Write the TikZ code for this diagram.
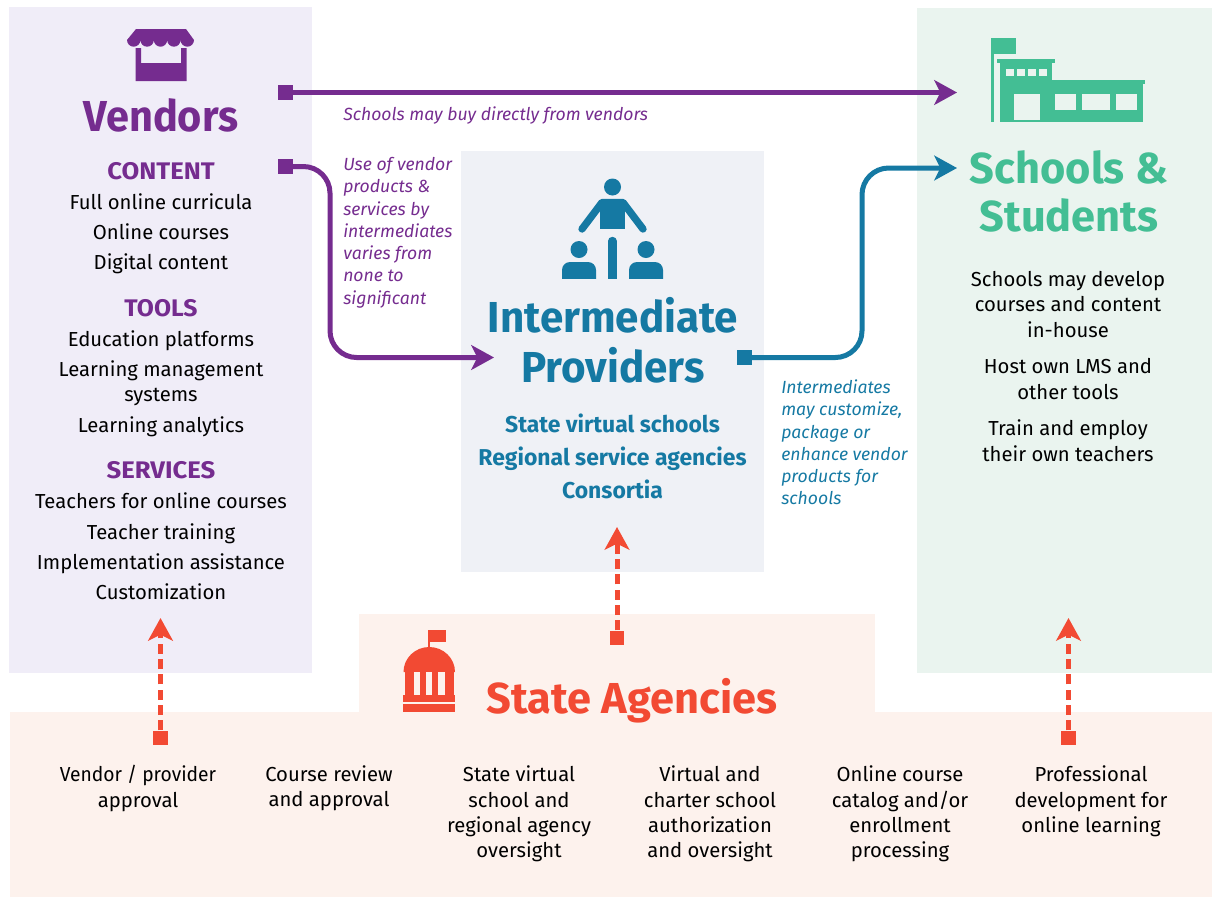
\documentclass[tikz,border=0pt]{standalone}
\usepackage{fontspec}
\usepackage{graphicx}
\setmainfont{Fira Sans}
\usetikzlibrary{arrows.meta}
\definecolor{vend}{HTML}{752C8F}
\definecolor{vendbg}{HTML}{F0EDF8}
\definecolor{inter}{HTML}{1579A3}
\definecolor{interbg}{HTML}{EFF1F6}
\definecolor{schl}{HTML}{43BE94}
\definecolor{schlbg}{HTML}{EAF4EF}
\definecolor{stat}{HTML}{F24A33}
\definecolor{statbg}{HTML}{FDF2ED}
\newcommand{\fsz}[2]{\fontsize{#1}{#2}\selectfont}
\newcommand{\st}{\rule[-.2em]{0pt}{.8em}}
\newcommand{\hs}[2]{\scalebox{#1}[1]{#2}}
\tikzset{
  x=.75pt,y=-.75pt,
  strutted/.style={execute at begin node=\st,execute at end node=\st},
  txt/.style={strutted,inner sep=0pt,align=center,text=black,font=\fsz{15.2pt}{19.1pt}},
  subhead/.style={strutted,inner sep=0pt,align=center,text=vend,font=\fsz{18pt}{21pt}\bfseries},
  bigtitle/.style={strutted,inner sep=0pt,align=center,font=\fsz{32.5pt}{37.5pt}\bfseries},
  provider/.style={strutted,inner sep=0pt,align=center,text=inter,font=\fsz{17.2pt}{24.5pt}\bfseries},
  note/.style={inner sep=0pt,align=left,anchor=north west,font=\fsz{13.2pt}{16.7pt}\itshape},
  sq/.style={inner sep=0pt,minimum size=11pt,fill=#1,draw=none,rectangle},
  flowline/.style={draw=#1,line width=3.75pt,-{Stealth[length=17pt,width=18.5pt,inset=4.5pt]}},
  dashline/.style={draw=stat,line width=3.75pt,dash pattern=on 7.5pt off 4pt,-{Stealth[length=17pt,width=18.5pt,inset=4.5pt]}},
}
\begin{document}
\begin{tikzpicture}
\useasboundingbox (0,0) rectangle (1212,897);
% panels
\fill[vendbg] (9,7) rectangle (312,673);
\fill[interbg] (461,151) rectangle (764,572);
\fill[schlbg] (917,8) rectangle (1212,673);
\fill[statbg] (359,614) rectangle (875,713);
\fill[statbg] (10,712) rectangle (1212,897);
% stall icon
\fill[vend] (136,29) -- (186,29) -- (194,40)
  arc (0:180:6.7 and 6.7) arc (0:180:6.7 and 6.7) arc (0:180:6.7 and 6.7) arc (0:180:6.7 and 6.7) arc (0:180:6.7 and 6.7)
  -- cycle;
\fill[vend] (135.5,48) -- (141,48) -- (141,63) -- (181,63) -- (181,48) -- (186.5,48) -- (186.5,81) -- (135.5,81) -- cycle;
% school icon
\fill[schl] (991,37.5) rectangle (1016,53.5);
\fill[schl] (991,53) rectangle (993.5,122);
\fill[schl] (997,59) rectangle (1055,63);
\fill[schl] (1000,63) rectangle (1052,81);
\fill[schl] (1000,80) rectangle (1143,122);
\fill[schl] (1052,80) rectangle (1145,84);
\foreach \a/\b in {1005.5/1014,1016.5/1025,1027.5/1036,1038.5/1047}
  \fill[schlbg] (\a,69) rectangle (\b,76);
\fill[schlbg] (1014,94) rectangle (1040,120);
\foreach \a/\b in {1054.5/1076,1082/1110,1115.5/1137}
  \fill[schlbg] (\a,94) rectangle (\b,109.5);
% people icon
\fill[inter] (612.5,187) circle[radius=8.5];
\fill[inter] (600,200) rectangle (625,229);
\draw[inter,line width=5.5pt,line cap=round,line join=round] (582,229) -- (602,202.5) -- (623,202.5) -- (643,229);
\draw[inter,line width=6.3pt,line cap=round] (612.3,241) -- (612.3,275);
\fill[inter] (608.1,270) rectangle (616.5,279);
\foreach \c in {579,646}{
  \fill[inter] (\c,249.5) circle[radius=8.5];
  \fill[inter,rounded corners=6pt] (\c-17,290) -- (\c-17,262) -- (\c+17,262) -- (\c+17,290) -- cycle;
}
\fill[interbg] (555,279) rectangle (670,292);
% capitol icon
\fill[stat] (428,630) rectangle (445.5,642);
\fill[stat] (428,642) rectangle (430,650);
\fill[stat] (403.5,672) arc (180:360:25.75 and 25) -- cycle;
\fill[stat] (405,672) rectangle (454,695);
\foreach \a/\b in {413.5/419.5,425.7/432,438/444.5}
  \fill[statbg] (\a,672) rectangle (\b,695);
\fill[stat] (403,695) rectangle (455,702);
\fill[stat] (403,704) rectangle (455,712);
% titles
\node[bigtitle,text=vend] (tVend) at (161,119) {\hs{.957}{Vendors}};
\node[bigtitle,text=inter] (tInter) at (613,344.5) {\hs{.973}{Intermediate}\\\hs{.973}{Providers}};
\node[bigtitle,text=schl,font=\fsz{32.5pt}{36pt}\bfseries] (tSchl) at (1069,195) {Schools \&\\Students};
\node[bigtitle,text=stat] (tStat) at (632,701) {State Agencies};
% vendors list
\node[subhead] (hContent) at (161,173) {\hs{1.07}{CONTENT}};
\node[txt] (v1) at (161,204) {Full online curricula};
\node[txt] (v2) at (161,234) {Online courses};
\node[txt] (v3) at (161,264) {Digital content};
\node[subhead] (hTools) at (161,310) {\hs{1.03}{TOOLS}};
\node[txt] (v4) at (161,341) {Education platforms};
\node[txt] (v5) at (161,383.5) {Learning management\\systems};
\node[txt] (v6) at (161,427) {Learning analytics};
\node[subhead] (hServ) at (161,472) {\hs{1.07}{SERVICES}};
\node[txt] (v7) at (161,503) {Teachers for online courses};
\node[txt] (v8) at (161,534) {Teacher training};
\node[txt] (v9) at (161,564) {Implementation assistance};
\node[txt] (v10) at (161,594) {Customization};
% providers
\node[provider] (p1) at (612.5,425.5) {State virtual schools};
\node[provider] (p2) at (612.5,458.5) {Regional service agencies};
\node[provider] (p3) at (612.5,491.5) {Consortia};
% schools list
\node[txt] (s1) at (1068,306) {Schools may develop\\courses and content\\in-house};
\node[txt] (s2) at (1068,381) {Host own LMS and\\other tools};
\node[txt] (s3) at (1068,442.5) {Train and employ\\their own teachers};
% state list
\node[txt] (a1) at (138,788.5) {\hs{.95}{Vendor / provider}\\approval};
\node[txt] (a2) at (329,788.5) {Course review\\and approval};
\node[txt] (a3) at (519,814) {State virtual\\school and\\regional agency\\oversight};
\node[txt] (a4) at (710,814) {Virtual and\\charter school\\authorization\\and oversight};
\node[txt] (a5) at (900,814) {Online course\\catalog and/or\\enrollment\\processing};
\node[txt] (a6) at (1091,801.5) {Professional\\development for\\online learning};
% notes
\node[note,text=vend] (n1) at (343,106) {Schools may buy directly from vendors};
\node[note,text=vend] (n2) at (343,157) {Use of vendor\\products \&\\services by\\intermediates\\varies from\\none to\\significant};
\node[note,text=inter] (n3) at (781,379.5) {Intermediates\\may customize,\\package or\\enhance vendor\\products for\\schools};
% connectors
\node[sq=vend] (sqA) at (285.5,92.5) {};
\node[sq=vend] (sqB) at (285.5,166.5) {};
\node[sq=inter] (sqC) at (744.5,357.5) {};
\node[sq=stat] (sqD) at (160.5,738) {};
\node[sq=stat] (sqE) at (617,638) {};
\node[sq=stat] (sqF) at (1068.5,738) {};
\coordinate (tipA) at (957,92.5);
\coordinate (tipB) at (494,357.5);
\coordinate (tipC) at (957,168);
\coordinate (tipD) at (160.5,618);
\coordinate (tipE) at (617,527);
\coordinate (tipF) at (1068.5,618);
\coordinate (bendB) at (330,260);
\coordinate (bendC) at (862,260);
\draw[flowline=vend] (sqA.center) -- (tipA);
\draw[flowline=vend,rounded corners=20pt] (sqB.center) -| (bendB) |- (tipB);
\draw[flowline=inter,rounded corners=20pt] (sqC.center) -| (bendC) |- (tipC);
\draw[dashline] (sqD.north) -- (tipD);
\draw[dashline] (sqE.north) -- (tipE);
\draw[dashline] (sqF.north) -- (tipF);
\end{tikzpicture}
\end{document}
